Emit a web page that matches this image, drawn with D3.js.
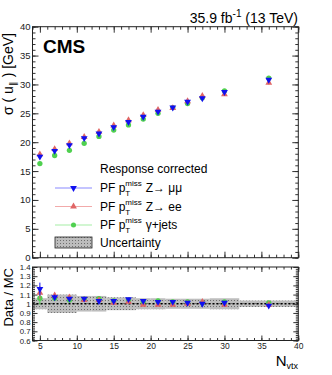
<!DOCTYPE html>
<html>
<head>
<meta charset="utf-8">
<script src="https://cdn.jsdelivr.net/npm/d3@7"></script>
<style>
  body { margin: 0; background: #fff; }
  svg { display: block; font-family: "Liberation Sans", Arial, sans-serif; }
  .tick text { fill: #222; }
</style>
</head>
<body>
<svg id="chart" width="332" height="375"></svg>
<script>
// data
const nvtx = [5, 7, 9, 11, 13, 15, 17, 19, 21, 23, 25, 27, 30, 36];
const sigmaMuMu = [17.5, 18.5, 19.5, 20.7, 21.5, 22.6, 23.5, 24.4, 25.3, 26.0, 27.0, 27.6, 28.7, 30.8];
const sigmaEE = [17.9, 18.8, 19.8, 20.9, 21.8, 22.9, 23.8, 24.7, 25.6, 25.9, 27.1, 28.0, 28.3, 30.3];
const sigmaGJ = [16.3, 17.7, 18.6, 19.8, 21.0, 22.1, 23.0, 24.0, 25.0, 26.0, 26.7, 27.7, 28.9, 31.1];
const sigmaErr = [0.4, 0.3, 0.3, 0.3, 0.3, 0.3, 0.3, 0.3, 0.3, 0.3, 0.3, 0.3, 0.3, 0.3];

const ratioMuMu = [1.16, 1.07, 1.055, 1.055, 1.03, 1.03, 1.05, 1.03, 1.02, 1.02, 1.01, 1.0, 1.01, 0.98];
const ratioEE = [1.12, 1.09, 1.07, 1.04, 1.04, 1.01, 1.02, 0.99, 0.99, 0.99, 1.0, 1.02, 0.99, 0.99];
const ratioGJ = [1.06, 1.06, 1.04, 1.05, 1.055, 1.03, 1.04, 1.02, 1.03, 1.02, 1.02, 1.01, 1.02, 1.01];
const ratioErr = [0.07, 0.03, 0.02, 0.02, 0.02, 0.015, 0.015, 0.015, 0.015, 0.015, 0.015, 0.015, 0.015, 0.02];

const bandEdges = [4, 6, 8, 10, 12, 14, 16, 18, 20, 22, 24, 26, 28, 32, 40];
const bandUnc = [0.06, 0.1, 0.1, 0.085, 0.085, 0.07, 0.07, 0.06, 0.06, 0.055, 0.055, 0.055, 0.06, 0.035];

const series = [
  { name: "γ+jets", proc: "γ+jets", values: sigmaGJ, ratio: ratioGJ, color: "#4fd04f", line: "#a6eea6", symbol: d3.symbolCircle, rot: 0 },
  { name: "ee", proc: "Z\u2192 ee", values: sigmaEE, ratio: ratioEE, color: "#e06666", line: "#f2aaaa", symbol: d3.symbolTriangle, rot: 0 },
  { name: "mumu", proc: "Z\u2192 μμ", values: sigmaMuMu, ratio: ratioMuMu, color: "#1010f0", line: "#8a8aff", symbol: d3.symbolTriangle, rot: 180 },
];
const legendOrder = [2, 1, 0];

const svg = d3.select("#chart");

// patterned fill for the uncertainty band
const defs = svg.append("defs");
const pat = defs.append("pattern").attr("id", "hatch").attr("patternUnits", "userSpaceOnUse")
  .attr("width", 3).attr("height", 3);
pat.append("rect").attr("width", 3).attr("height", 3).attr("fill", "#bdbdbd");
pat.append("rect").attr("width", 1).attr("height", 1).attr("fill", "#6e6e6e");

const left = 32.5, right = 298.3;
const x = d3.scaleLinear().domain([4, 40]).range([left, right]);
const yTop = d3.scaleLinear().domain([0, 40]).range([257.7, 26.7]);
const yBot = d3.scaleLinear().domain([0.6, 1.4]).range([340.5, 267]);

// draw ROOT style ticks (inside) for one side of a frame
const drawAxis = (axisFn, scale, transform, major, minor, majLen, minLen, labels, fmt, fontSize) => {
  const gMinor = svg.append("g").attr("transform", transform)
    .call(axisFn(scale).tickValues(minor).tickSize(-minLen).tickSizeOuter(0).tickFormat(""));
  gMinor.select(".domain").remove();
  const gMajor = svg.append("g").attr("transform", transform)
    .call(axisFn(scale).tickValues(major).tickSize(-majLen).tickSizeOuter(0).tickPadding(2)
      .tickFormat(labels ? fmt : ""));
  gMajor.select(".domain").remove();
  gMajor.selectAll("text").attr("font-size", fontSize || 9).attr("font-family", "Liberation Sans, Arial, sans-serif");
  svg.selectAll(".tick line").attr("stroke", "#333");
  return gMajor;
};

const xMajor = d3.range(5, 41, 5);
const xMinor = d3.range(4, 41, 1);

// upper panel
drawAxis(d3.axisBottom, x, `translate(0,${yTop(0)})`, xMajor, xMinor, 6, 3, false);
drawAxis(d3.axisTop, x, `translate(0,${yTop(40)})`, xMajor, xMinor, 6, 3, false);
drawAxis(d3.axisLeft, yTop, `translate(${left},0)`, d3.range(0, 41, 5), d3.range(0, 41, 1), 6, 3, true, d3.format("d"), 9.5);
drawAxis(d3.axisRight, yTop, `translate(${right},0)`, d3.range(0, 41, 5), d3.range(0, 41, 1), 6, 3, false);

// lower panel band and reference line
const band = svg.append("g");
band.selectAll("rect").data(bandUnc).join("rect")
  .attr("x", (d, i) => x(bandEdges[i]))
  .attr("width", (d, i) => x(bandEdges[i + 1]) - x(bandEdges[i]))
  .attr("y", (d) => yBot(1 + d))
  .attr("height", (d) => yBot(1 - d) - yBot(1 + d))
  .attr("fill", "url(#hatch)");
svg.append("line").attr("x1", x(4)).attr("x2", x(40)).attr("y1", yBot(1)).attr("y2", yBot(1))
  .attr("stroke", "#000").attr("stroke-width", 1.5).attr("stroke-dasharray", "2,2");

drawAxis(d3.axisBottom, x, `translate(0,${yBot(0.6)})`, xMajor, xMinor, 5, 2.5, true, d3.format("d"), 8.5);
drawAxis(d3.axisTop, x, `translate(0,${yBot(1.4)})`, xMajor, xMinor, 5, 2.5, false);
const rMajor = d3.range(6, 15).map((v) => v / 10);
const rMinor = d3.range(30, 71).map((v) => v / 50);
drawAxis(d3.axisLeft, yBot, `translate(${left},0)`, rMajor, rMinor, 5, 2.5, true, (d) => (d === 1 ? "1" : d3.format(".1f")(d)), 7.8);
drawAxis(d3.axisRight, yBot, `translate(${right},0)`, rMajor, rMinor, 5, 2.5, false);

// frames
svg.append("rect").attr("x", left).attr("y", yTop(40)).attr("width", right - left)
  .attr("height", yTop(0) - yTop(40)).attr("fill", "none").attr("stroke", "#222");
svg.append("rect").attr("x", left).attr("y", yBot(1.4)).attr("width", right - left)
  .attr("height", yBot(0.6) - yBot(1.4)).attr("fill", "none").attr("stroke", "#222");

// markers with error bars
const drawPoints = (yScale, key, errs) => {
  series.forEach((s) => {
    const g = svg.append("g");
    const vals = s[key];
    g.selectAll("line").data(vals).join("line")
      .attr("x1", (d, i) => x(nvtx[i])).attr("x2", (d, i) => x(nvtx[i]))
      .attr("y1", (d, i) => yScale(d - errs[i])).attr("y2", (d, i) => yScale(d + errs[i]))
      .attr("stroke", s.color).attr("stroke-width", 1);
    g.selectAll("path").data(vals).join("path")
      .attr("d", d3.symbol().type(s.symbol).size(s.symbol === d3.symbolCircle ? 22 : 20))
      .attr("transform", (d, i) => `translate(${x(nvtx[i])},${yScale(d)}) rotate(${s.rot})`)
      .attr("fill", s.color);
  });
};
drawPoints(yTop, "values", sigmaErr);
drawPoints(yBot, "ratio", ratioErr);

// labels
svg.append("text").attr("x", 43).attr("y", 53).attr("font-size", 19).attr("font-weight", "bold")
  .attr("font-family", "Liberation Sans, Arial, sans-serif").text("CMS");

const lumi = svg.append("text").attr("x", 298).attr("y", 23).attr("font-size", 14).attr("text-anchor", "end");
lumi.append("tspan").text("35.9 fb");
lumi.append("tspan").attr("font-size", 10).attr("dy", -6).text("-1");
lumi.append("tspan").attr("dy", 6).text(" (13 TeV)");

const yTitle = svg.append("text").attr("transform", "translate(13,33) rotate(-90)")
  .attr("text-anchor", "end").attr("font-size", 14);
yTitle.append("tspan").text("σ ( u");
yTitle.append("tspan").attr("font-size", 9).attr("dy", 3).text("\u2225");
yTitle.append("tspan").attr("dy", -3).text(" ) [GeV]");

svg.append("text").attr("transform", "translate(13,268) rotate(-90)")
  .attr("text-anchor", "end").attr("font-size", 13).text("Data / MC");

const xTitle = svg.append("text").attr("x", 298).attr("y", 366).attr("text-anchor", "end").attr("font-size", 15);
xTitle.append("tspan").text("N");
xTitle.append("tspan").attr("font-size", 9).attr("dy", 3).text("vtx");

// legend
const legend = svg.append("g");
legend.append("text").attr("x", 100).attr("y", 173).attr("font-size", 12).text("Response corrected");
legendOrder.forEach((idx, k) => {
  const s = series[idx];
  const cy = 188 + k * 18.5;
  legend.append("line").attr("x1", 55).attr("x2", 92).attr("y1", cy).attr("y2", cy)
    .attr("stroke", s.line).attr("stroke-width", 1.2);
  legend.append("path").attr("d", d3.symbol().type(s.symbol).size(20))
    .attr("transform", `translate(73.5,${cy}) rotate(${s.rot})`).attr("fill", s.color);
  const t = legend.append("text").attr("x", 100).attr("y", cy + 4).attr("font-size", 12);
  t.append("tspan").text("PF p");
  t.append("tspan").attr("font-size", 8).attr("dy", 4).text("T");
  t.append("tspan").attr("font-size", 8).attr("dx", -5).attr("dy", -10).text("miss");
  t.append("tspan").attr("dx", 4).attr("dy", 6).text(s.proc);
});
legend.append("rect").attr("x", 55).attr("y", 237).attr("width", 37).attr("height", 11)
  .attr("fill", "url(#hatch)").attr("stroke", "#222").attr("stroke-width", 0.8);
legend.append("text").attr("x", 100).attr("y", 247).attr("font-size", 12).text("Uncertainty");
</script>
</body>
</html>
